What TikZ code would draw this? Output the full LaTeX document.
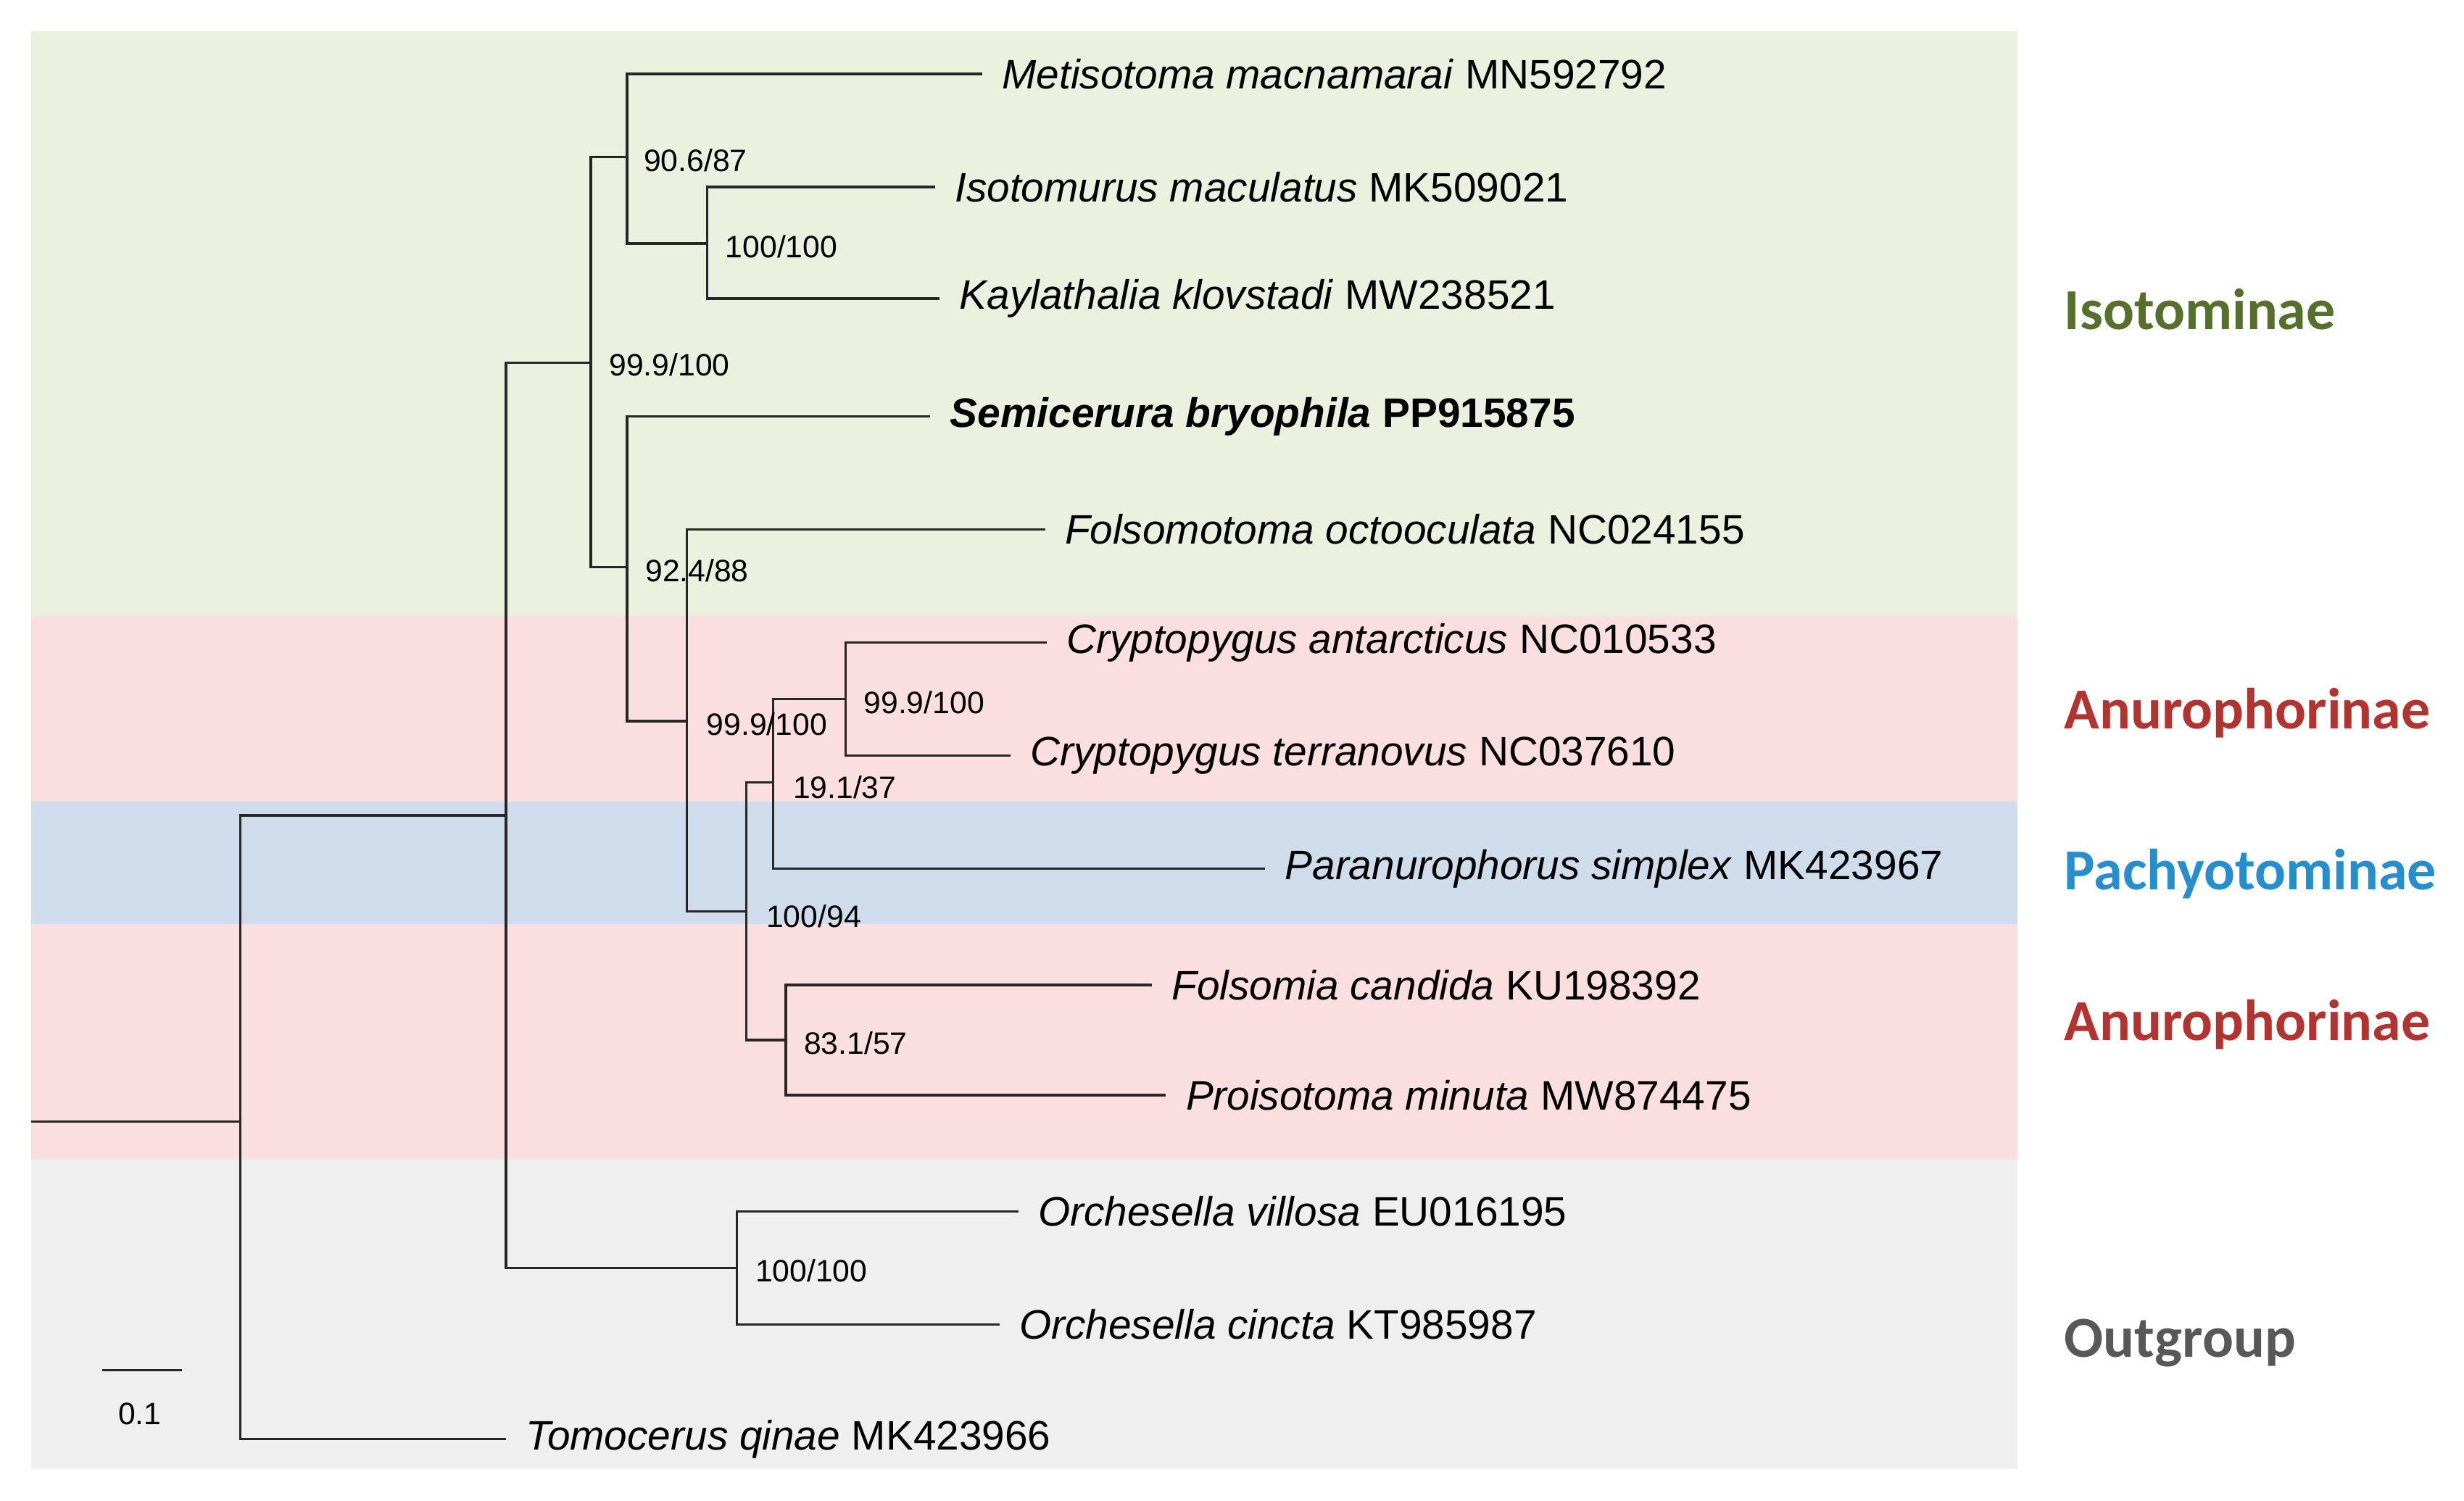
\documentclass[tikz,border=0pt]{standalone}
\usepackage{fontspec}
\setmainfont{Liberation Sans}
\newfontfamily\cladefont{Carlito}
\usetikzlibrary{positioning}
\definecolor{bandgreen}{RGB}{235,240,223}
\definecolor{bandpink}{RGB}{250,222,224}
\definecolor{bandblue}{RGB}{206,220,236}
\definecolor{bandgrey}{RGB}{239,239,239}
\definecolor{cladegreen}{RGB}{84,112,42}
\definecolor{cladered}{RGB}{178,52,48}
\definecolor{cladeblue}{RGB}{38,142,204}
\definecolor{cladegrey}{RGB}{88,88,88}
\begin{document}
\begin{tikzpicture}[
    x=0.01cm, y=-0.01cm,
    branch/.style={line width=0.45pt, draw=black!85},
    leaf/.style={anchor=west, inner sep=0, xshift=0.12cm, font=\fontsize{7.45}{9}\selectfont},
    support/.style={anchor=west, inner sep=0, font=\fontsize{5.6}{7}\selectfont},
    clade/.style={anchor=west, inner sep=0, font=\cladefont\bfseries\fontsize{10.5}{12}\selectfont}
  ]
  \useasboundingbox (0,0) rectangle (1568,955);
  % coloured bands
  \fill[bandgreen] (20,20) rectangle (1284,392);
  \fill[bandpink] (20,392) rectangle (1284,510);
  \fill[bandblue] (20,510) rectangle (1284,588);
  \fill[bandpink] (20,588) rectangle (1284,738);
  \fill[bandgrey] (20,738) rectangle (1284,935);

  % internal nodes
  \coordinate (root) at (20,714);
  \coordinate (n0) at (153,714);
  \coordinate (n1) at (322,519);
  \coordinate (n2) at (376,231);
  \coordinate (n3) at (399,100);
  \coordinate (n4) at (450,155);
  \coordinate (n5) at (399,361);
  \coordinate (n6) at (437,459);
  \coordinate (n7) at (475,580);
  \coordinate (n8) at (492,498);
  \coordinate (n9) at (538,445);
  \coordinate (n10) at (500,662);
  \coordinate (n11) at (469,807);

  % tips
  \coordinate (tmet) at (625,47);
  \coordinate (tiso) at (595,119);
  \coordinate (tkay) at (598,190);
  \coordinate (tsem) at (592,265);
  \coordinate (tfot) at (665,337);
  \coordinate (tcan) at (666,409);
  \coordinate (tcte) at (643,481);
  \coordinate (tpar) at (805,553);
  \coordinate (tfca) at (733,627);
  \coordinate (tpmi) at (742,697);
  \coordinate (tovi) at (648,771);
  \coordinate (toci) at (636,843);
  \coordinate (ttom) at (322,916);

  \node[leaf] (met) at (tmet) {\textit{Metisotoma macnamarai} MN592792};
  \node[leaf] (iso) at (tiso) {\textit{Isotomurus maculatus} MK509021};
  \node[leaf] (kay) at (tkay) {\textit{Kaylathalia klovstadi} MW238521};
  \node[leaf] (sem) at (tsem) {\textbf{\textit{Semicerura bryophila} PP915875}};
  \node[leaf] (fot) at (tfot) {\textit{Folsomotoma octooculata} NC024155};
  \node[leaf] (can) at (tcan) {\textit{Cryptopygus antarcticus} NC010533};
  \node[leaf] (cte) at (tcte) {\textit{Cryptopygus terranovus} NC037610};
  \node[leaf] (par) at (tpar) {\textit{Paranurophorus simplex} MK423967};
  \node[leaf] (fca) at (tfca) {\textit{Folsomia candida} KU198392};
  \node[leaf] (pmi) at (tpmi) {\textit{Proisotoma minuta} MW874475};
  \node[leaf] (ovi) at (tovi) {\textit{Orchesella villosa} EU016195};
  \node[leaf] (oci) at (toci) {\textit{Orchesella cincta} KT985987};
  \node[leaf] (tom) at (ttom) {\textit{Tomocerus qinae} MK423966};

  % branches
  \draw[branch] (root) -- (n0);
  \draw[branch] (n0) |- (n1);
  \draw[branch] (n0) |- (ttom);
  \draw[branch] (n1) |- (n2);
  \draw[branch] (n1) |- (n11);
  \draw[branch] (n2) |- (n3);
  \draw[branch] (n2) |- (n5);
  \draw[branch] (n3) |- (tmet);
  \draw[branch] (n3) |- (n4);
  \draw[branch] (n4) |- (tiso);
  \draw[branch] (n4) |- (tkay);
  \draw[branch] (n5) |- (tsem);
  \draw[branch] (n5) |- (n6);
  \draw[branch] (n6) |- (tfot);
  \draw[branch] (n6) |- (n7);
  \draw[branch] (n7) |- (n8);
  \draw[branch] (n7) |- (n10);
  \draw[branch] (n8) |- (n9);
  \draw[branch] (n8) |- (tpar);
  \draw[branch] (n9) |- (tcan);
  \draw[branch] (n9) |- (tcte);
  \draw[branch] (n10) |- (tfca);
  \draw[branch] (n10) |- (tpmi);
  \draw[branch] (n11) |- (tovi);
  \draw[branch] (n11) |- (toci);

  % support values
  \node[support] at (409,102) {90.6/87};
  \node[support] at (461,157) {100/100};
  \node[support] at (387,232) {99.9/100};
  \node[support] at (410,363) {92.4/88};
  \node[support] at (449,461) {99.9/100};
  \node[support] at (549,447) {99.9/100};
  \node[support] at (504,501) {19.1/37};
  \node[support] at (487,583) {100/94};
  \node[support] at (511,664) {83.1/57};
  \node[support] at (480,809) {100/100};

  % scale bar
  \coordinate (sb1) at (65,872);
  \coordinate (sb2) at (116,872);
  \draw[branch] (sb1) -- (sb2);
  \node[support, anchor=center] (sbl) at (89,900) {0.1};

  % clade names
  \node[clade, text=cladegreen] (isotominae) at (1313,197) {Isotominae};
  \node[clade, text=cladered] (anuro1) at (1313,454) {Anurophorinae};
  \node[clade, text=cladeblue] (pachy) at (1313,556) {Pachyotominae};
  \node[clade, text=cladered] (anuro2) at (1313,652) {Anurophorinae};
  \node[clade, text=cladegrey] (outgroup) at (1313,855) {Outgroup};
\end{tikzpicture}
\end{document}
